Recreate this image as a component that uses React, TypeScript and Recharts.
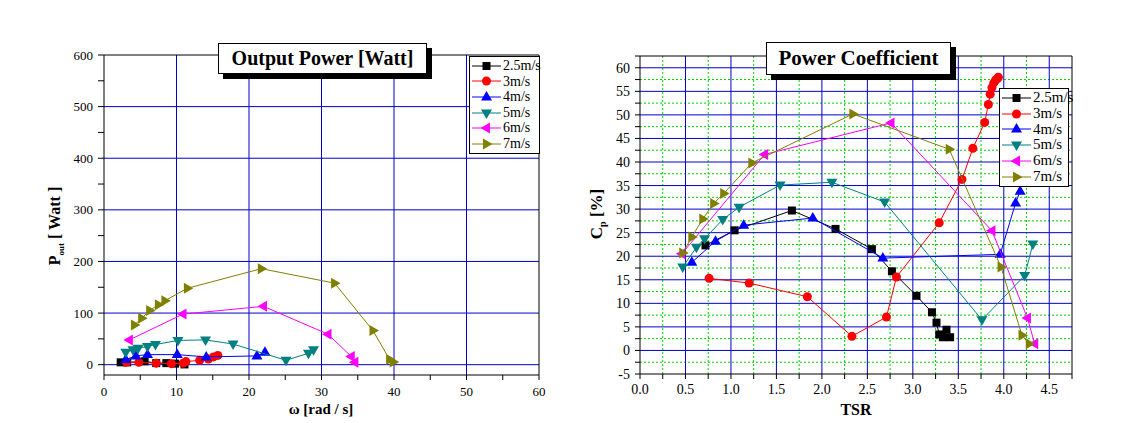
import React from 'react'
import { ScatterChart, Scatter, XAxis, YAxis, CartesianGrid, Legend } from 'recharts'

const speeds = ['2.5m/s', '3m/s', '4m/s', '5m/s', '6m/s', '7m/s']
const colors = ['#000000', '#ff0000', '#0000ff', '#008080', '#ff00ff', '#808000']
const shapes = ['square', 'circle', 'up', 'down', 'left', 'right']

// output power [W] vs omega [rad/s]
const w25 = [2.3, 3.2, 5.6, 7.2, 8.6, 9.8, 11.1]
const p25 = [4.5, 4.5, 6.5, 3, 3, 2, 0.5]
const w3 = [3.1, 4.8, 7.2, 9.3, 10.9, 11.3, 13.2, 14.4, 15.1, 15.7]
const p3 = [4.5, 4.5, 3, 2, 3, 6, 8.4, 11, 15, 18]
const w4 = [3.0, 4.4, 6.0, 10.1, 14.1, 21.1, 22.2]
const p4 = [10, 17, 19.5, 19.5, 15, 17, 24]
const w5 = [3.0, 4.0, 4.7, 6.0, 7.1, 10.2, 14.0, 17.8, 25.1, 28.2, 28.9]
const p5 = [24, 29, 32, 35, 39, 47, 48, 40, 8.5, 22, 29]
const w6 = [3.5, 10.9, 22.0, 30.9, 34.1, 34.6]
const p6 = [48, 98, 113, 59, 16, 4.5]
const w7 = [4.2, 5.2, 6.3, 7.5, 8.4, 11.5, 21.7, 31.8, 37.1, 39.4, 39.9]
const p7 = [77, 90, 105, 116, 124, 148, 186, 158, 66, 10, 5]

// power coefficient [%] vs TSR
const t25 = [0.72, 1.04, 1.67, 2.15, 2.55, 2.77, 3.04, 3.21, 3.26, 3.29, 3.37, 3.33, 3.41]
const c25 = [22.3, 25.5, 29.7, 25.8, 21.5, 16.8, 11.6, 8.1, 5.9, 3.4, 4.4, 2.8, 2.8]
const t3 = [0.76, 1.2, 1.84, 2.33, 2.71, 2.82, 3.29, 3.54, 3.66, 3.79, 3.83, 3.85, 3.87, 3.89, 3.91, 3.93, 3.94]
const c3 = [15.3, 14.3, 11.4, 3.0, 7.1, 15.6, 27.1, 36.3, 42.9, 48.4, 52.2, 54.4, 55.8, 56.8, 57.4, 57.7, 58.0]
const t4 = [0.57, 0.83, 1.14, 1.9, 2.67, 3.96, 4.13, 4.18]
const c4 = [18.7, 23.2, 26.6, 28.1, 19.6, 20.4, 31.3, 33.8]
const t5 = [0.47, 0.62, 0.71, 0.91, 1.09, 1.54, 2.11, 2.69, 3.76, 4.23, 4.32]
const c5 = [17.7, 21.9, 23.7, 27.8, 30.4, 35.1, 35.7, 31.5, 6.5, 15.9, 22.6]
const t6 = [0.46, 1.37, 2.76, 3.87, 4.26, 4.34]
const c6 = [20.5, 41.6, 48.3, 25.4, 6.9, 1.4]
const t7 = [0.47, 0.57, 0.69, 0.81, 0.92, 1.23, 2.34, 3.4, 3.97, 4.2, 4.28]
const c7 = [20.7, 24.1, 27.9, 31.2, 33.3, 39.8, 50.2, 42.7, 17.7, 3.2, 1.4]

const zip = (xs: number[], ys: number[]) => xs.map((x, i) => ({ x, y: ys[i] }))
const powerSeries = [zip(w25, p25), zip(w3, p3), zip(w4, p4), zip(w5, p5), zip(w6, p6), zip(w7, p7)]
const cpSeries = [zip(t25, c25), zip(t3, c3), zip(t4, c4), zip(t5, c5), zip(t6, c6), zip(t7, c7)]

const range = (a: number, b: number, s: number) => {
  const out: number[] = []
  for (let v = a; v <= b + 1e-9; v += s) out.push(Math.round(v * 100) / 100)
  return out
}

const FONT = '"Liberation Serif", "Times New Roman", serif'
const BLUE_GRID = '#0000c8'
const GREEN_GRID = '#00d000'

function Marker({ kind, cx, cy, color }: { kind: string; cx: number; cy: number; color: string }) {
  if (kind === 'square') return <rect x={cx - 4} y={cy - 4} width={8} height={8} fill={color} />
  if (kind === 'circle') return <circle cx={cx} cy={cy} r={4.5} fill={color} />
  let pts: number[][] = []
  if (kind === 'up') pts = [[cx, cy - 6], [cx + 5.5, cy + 3.5], [cx - 5.5, cy + 3.5]]
  if (kind === 'down') pts = [[cx, cy + 6], [cx + 5.5, cy - 3.5], [cx - 5.5, cy - 3.5]]
  if (kind === 'left') pts = [[cx - 6, cy], [cx + 3.5, cy - 5.5], [cx + 3.5, cy + 5.5]]
  if (kind === 'right') pts = [[cx + 6, cy], [cx - 3.5, cy - 5.5], [cx - 3.5, cy + 5.5]]
  return <polygon points={pts.map(p => p.join(',')).join(' ')} fill={color} />
}

const LegendBox = ({ fontSize, rowH }: { fontSize: number; rowH: number }) => (
  <div style={{ border: '1px solid #000', background: '#fff', fontFamily: FONT, fontSize, padding: '1px 2px 1px 2px', boxSizing: 'border-box' }}>
    {speeds.map((s, i) => (
      <div key={s} style={{ display: 'flex', alignItems: 'center', height: rowH, lineHeight: `${rowH}px` }}>
        <svg width={29} height={14} style={{ flex: 'none' }}>
          <line x1={0} y1={7} x2={29} y2={7} stroke={colors[i]} strokeWidth={1} />
          <Marker kind={shapes[i]} cx={14.5} cy={7} color={colors[i]} />
        </svg>
        <span style={{ marginLeft: 2, whiteSpace: 'nowrap' }}>{s}</span>
      </div>
    ))}
  </div>
)

const TitleBox = ({ text, left, top, width, height, fontSize }: { text: string; left: number; top: number; width: number; height: number; fontSize: number }) => (
  <div
    style={{
      position: 'absolute', left, top, width, height, boxSizing: 'border-box',
      border: '1px solid #000', background: '#fff', boxShadow: '5px 5px 0 #000',
      fontFamily: FONT, fontWeight: 'bold', fontSize, lineHeight: `${height - 2}px`,
      textAlign: 'center', whiteSpace: 'nowrap', zIndex: 2,
    }}
  >
    {text}
  </div>
)

const tickStyle = { fill: '#000', fontFamily: FONT }

const PowerChart = () => {
  const xTicks = range(0, 60, 5)
  const yTicks = range(0, 600, 50)
  return (
    <ScatterChart width={564} height={423} margin={{ top: 55, right: 25, bottom: 18, left: 58 }}>
      <CartesianGrid stroke={BLUE_GRID} strokeWidth={1} horizontalValues={range(0, 500, 100)} verticalValues={range(10, 50, 10)} />
      <XAxis
        type="number" dataKey="x" domain={[0, 60]} ticks={xTicks} interval={0} height={30}
        stroke="#000" tickSize={5} tickMargin={7} tick={{ ...tickStyle, fontSize: 13 }}
        tickFormatter={(v: number) => (v % 10 === 0 ? String(v) : '')}
        label={{
          content: () => (
            <text x={321} y={414} textAnchor="middle" fontFamily={FONT} fontWeight="bold" fontSize={15} fill="#000">
              ω [rad / s]
            </text>
          ),
        }}
      />
      <XAxis xAxisId="top" orientation="top" type="number" domain={[0, 60]} ticks={xTicks} interval={0} mirror tick={false} tickSize={4} stroke="#000" />
      <YAxis
        type="number" dataKey="y" domain={[-20, 600]} ticks={yTicks} interval={0} width={46}
        stroke="#000" tickSize={6} tickMargin={5} tick={{ ...tickStyle, fontSize: 13 }}
        tickFormatter={(v: number) => (v % 100 === 0 ? String(v) : '')}
        label={{
          content: () => (
            <text transform="translate(60,226) rotate(-90)" textAnchor="middle" fontFamily={FONT} fontWeight="bold" fontSize={16} fill="#000">
              <tspan>P</tspan>
              <tspan fontSize={9} dy={4}>out</tspan>
              <tspan dy={-4}> [ Watt ]</tspan>
            </text>
          ),
        }}
      />
      <YAxis yAxisId="right" orientation="right" type="number" domain={[-20, 600]} ticks={yTicks} interval={0} mirror tick={false} tickSize={4} stroke="#000" />
      <Legend
        layout="vertical" align="center" verticalAlign="middle"
        wrapperStyle={{ left: 469, top: 56, width: 71 }}
        content={() => <LegendBox fontSize={14} rowH={15.6} />}
      />
      {powerSeries.map((d, i) => (
        <Scatter
          key={speeds[i]} name={speeds[i]} data={d} fill={colors[i]}
          line={{ stroke: colors[i], strokeWidth: 1 }}
          shape={(p: any) => <Marker kind={shapes[i]} cx={p.cx} cy={p.cy} color={colors[i]} />}
          isAnimationActive={false}
        />
      ))}
    </ScatterChart>
  )
}

const CpChart = () => {
  const xTicks = range(0, 4.75, 0.25)
  const yTicks = range(-5, 62.5, 2.5)
  return (
    <ScatterChart width={564} height={423} margin={{ top: 56, right: 56, bottom: 19, left: 36 }}>
      <CartesianGrid stroke={GREEN_GRID} strokeDasharray="2 2" strokeWidth={1} horizontalValues={range(-2.5, 57.5, 5)} verticalValues={range(0.25, 4.25, 0.5)} />
      <CartesianGrid stroke={BLUE_GRID} strokeWidth={1} horizontalValues={range(0, 60, 5)} verticalValues={range(0.5, 4.5, 0.5)} />
      <XAxis
        type="number" dataKey="x" domain={[0, 4.75]} ticks={xTicks} interval={0} height={30}
        stroke="#000" tickSize={5} tickMargin={5} tick={{ ...tickStyle, fontSize: 14 }}
        tickFormatter={(v: number) => (Math.abs(v * 2 - Math.round(v * 2)) < 1e-6 && v <= 4.5 ? v.toFixed(1) : '')}
        label={{
          content: () => (
            <text x={292} y={415} textAnchor="middle" fontFamily={FONT} fontWeight="bold" fontSize={16} fill="#000">
              TSR
            </text>
          ),
        }}
      />
      <XAxis xAxisId="top" orientation="top" type="number" domain={[0, 4.75]} ticks={xTicks} interval={0} mirror tick={false} tickSize={4} stroke="#000" />
      <YAxis
        type="number" dataKey="y" domain={[-5, 62.5]} ticks={yTicks} interval={0} width={40}
        stroke="#000" tickSize={5} tickMargin={5} tick={{ ...tickStyle, fontSize: 14 }}
        tickFormatter={(v: number) => (v % 5 === 0 && v <= 60 ? String(v) : '')}
        label={{
          content: () => (
            <text transform="translate(38,214) rotate(-90)" textAnchor="middle" fontFamily={FONT} fontWeight="bold" fontSize={17} fill="#000">
              <tspan>C</tspan>
              <tspan fontSize={10} dy={4}>p</tspan>
              <tspan dy={-4}> [%]</tspan>
            </text>
          ),
        }}
      />
      <YAxis yAxisId="right" orientation="right" type="number" domain={[-5, 62.5]} ticks={yTicks} interval={0} mirror tick={false} tickSize={4} stroke="#000" />
      <Legend
        layout="vertical" align="center" verticalAlign="middle"
        wrapperStyle={{ left: 435, top: 88, width: 70 }}
        content={() => <LegendBox fontSize={15} rowH={15.8} />}
      />
      {cpSeries.map((d, i) => (
        <Scatter
          key={speeds[i]} name={speeds[i]} data={d} fill={colors[i]}
          line={{ stroke: colors[i], strokeWidth: 1 }}
          shape={(p: any) => <Marker kind={shapes[i]} cx={p.cx} cy={p.cy} color={colors[i]} />}
          isAnimationActive={false}
        />
      ))}
    </ScatterChart>
  )
}

export default function App() {
  return (
    <div style={{ position: 'absolute', left: 0, top: 0, width: 1128, height: 423, background: '#fff', overflow: 'hidden', fontFamily: FONT }}>
      <div style={{ position: 'absolute', left: 0, top: 0 }}>
        <PowerChart />
      </div>
      <div style={{ position: 'absolute', left: 564, top: 0 }}>
        <CpChart />
      </div>
      <TitleBox text="Output Power [Watt]" left={218} top={43} width={209} height={31} fontSize={20} />
      <TitleBox text="Power Coefficient" left={766} top={42} width={185} height={33} fontSize={21} />
    </div>
  )
}
